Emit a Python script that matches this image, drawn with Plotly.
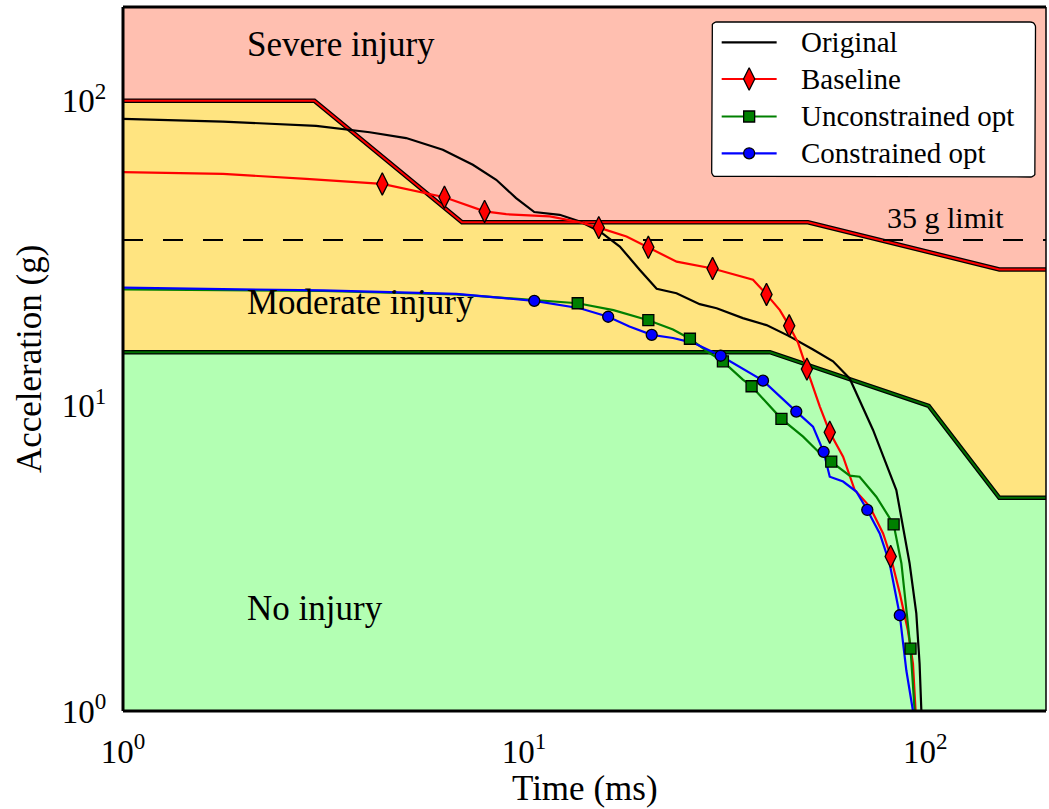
import math
import plotly.graph_objects as go

# ---------------- data ----------------
X_MAX = 200
Y_MAX = 203

# injury region boundaries (time ms, acceleration g)
severe_t = [1, 3, 7, 51, 153, 200]
severe_a = [100, 100, 40, 40, 28, 28]
moderate_t = [1, 41, 102, 153, 200]
moderate_a = [15, 15, 10, 5, 5]
limit_g = 35

orig_t = [1, 1.775, 3.03, 4.12, 5.08, 6.27, 7.45, 8.52, 9.55, 10.6, 12.27, 13.77, 15.44,
          17.32, 19.43, 21.4, 23.98, 27.4, 30.2, 35.1, 40.2, 45.9, 52.5, 58.9, 64.8, 74.1,
          84.7, 91.4, 95.0, 96.8, 97.8]
orig_a = [87.3, 85.5, 82.8, 78.9, 75.5, 69.1, 61.7, 55.1, 48.0, 43.2, 42.3, 40.2, 37.3,
          33.3, 27.9, 24.2, 23.4, 21.55, 20.9, 19.4, 18.4, 16.9, 15.3, 14.0, 12.3, 8.34,
          5.30, 3.05, 2.09, 1.43, 1.0]

base_t = [1, 1.775, 2.86, 4.43, 6.33, 7.97, 9.02, 11.59, 13.77, 15.35, 18.0, 20.4, 24.0,
          29.5, 37.2, 40.2, 43.4, 45.8, 48.2, 50.7, 54.6, 57.8, 62.4, 66.7, 72.7, 78.5,
          82.0, 86.4, 90.5, 93.2, 94.6]
base_a = [58.4, 57.6, 55.5, 53.4, 48.3, 43.4, 42.5, 41.8, 40.0, 38.4, 35.9, 33.1, 29.7,
          28.2, 25.9, 23.2, 20.6, 18.3, 16.1, 13.2, 9.95, 8.20, 6.82, 5.30, 4.68, 3.82,
          3.21, 2.43, 1.84, 1.43, 1.0]
base_marks = [3, 4, 5, 9, 11, 13, 15, 17, 19, 21, 26]

unc_t = [1, 3.15, 6.77, 10.6, 13.6, 16.7, 20.4, 23.5, 25.9, 29.0, 31.3, 35.1, 36.9, 43.8,
         49.6, 54.6, 58.3, 64.8, 68.6, 75.5, 83.4, 87.2, 91.9, 93.2, 94.1]
unc_a = [24.1, 23.8, 23.2, 22.3, 21.7, 20.6, 19.1, 17.8, 16.6, 14.9, 14.0, 12.2, 11.6, 9.07,
         7.93, 7.0, 6.57, 5.91, 5.86, 5.04, 4.09, 3.05, 1.60, 1.17, 1.0]
unc_marks = [4, 6, 8, 10, 12, 13, 16, 20, 22]

con_t = [1, 3.15, 6.77, 10.6, 13.77, 16.2, 18.3, 20.8, 23.5, 26.4, 30.9, 39.4, 47.7, 52.5,
         55.8, 57.8, 62.4, 67.3, 71.7, 77.0, 81.5, 86.4, 89.7, 93.2]
con_a = [24.4, 23.9, 23.3, 22.1, 20.9, 19.6, 18.2, 17.1, 16.7, 16.1, 14.6, 12.1, 9.58, 8.55,
         7.07, 5.86, 5.65, 5.24, 4.56, 3.82, 3.05, 2.06, 1.36, 1.0]
con_marks = [3, 5, 7, 10, 11, 12, 14, 18, 21]

series_names = ["Original", "Baseline", "Unconstrained opt", "Constrained opt"]
region_labels = ["Severe injury", "Moderate injury", "No injury"]
limit_label = "35 g limit"
x_title = "Time (ms)"
y_title = "Acceleration (g)"
tick_vals = [1, 10, 100]
tick_text = ["10<sup>0</sup>", "10<sup>1</sup>", "10<sup>2</sup>"]

# ---------------- style ----------------
FONT = "'Liberation Serif', Tinos, 'Times New Roman', 'DejaVu Serif', serif"
PINK = "#FFBFB0"
YELLOW = "#FFE480"
LGREEN = "#B3FFB3"
W, H = 1049, 809
ML, MR, MT, MB = 123, 2.5, 7, 98
PW = W - ML - MR
PH = H - MT - MB

fig = go.Figure()

# regions
fig.add_trace(go.Scatter(x=severe_t + [X_MAX, 1], y=severe_a + [1000, 1000], fill="toself",
                         fillcolor=PINK, line=dict(width=0), mode="lines", hoverinfo="skip"))
fig.add_trace(go.Scatter(x=severe_t + moderate_t[::-1], y=severe_a + moderate_a[::-1], fill="toself",
                         fillcolor=YELLOW, line=dict(width=0), mode="lines", hoverinfo="skip"))
fig.add_trace(go.Scatter(x=moderate_t + [X_MAX, 1], y=moderate_a + [0.1, 0.1], fill="toself",
                         fillcolor=LGREEN, line=dict(width=0), mode="lines", hoverinfo="skip"))
# boundaries
fig.add_trace(go.Scatter(x=severe_t, y=severe_a, mode="lines", line=dict(color="black", width=4.5)))
fig.add_trace(go.Scatter(x=severe_t, y=severe_a, mode="lines", line=dict(color="red", width=2)))
fig.add_trace(go.Scatter(x=moderate_t, y=moderate_a, mode="lines", line=dict(color="black", width=4.5)))
fig.add_trace(go.Scatter(x=moderate_t, y=moderate_a, mode="lines", line=dict(color="#007000", width=2)))
# limit line
fig.add_trace(go.Scatter(x=[1, X_MAX], y=[limit_g, limit_g], mode="lines",
                         line=dict(color="black", width=2, dash="20px,20px")))

# curves
styles = [
    ("black", None, None),
    ("red", "diamond-tall", "red"),
    ("green", "square", "green"),
    ("blue", "circle", "blue"),
]
data = [(orig_t, orig_a, []), (base_t, base_a, base_marks),
        (unc_t, unc_a, unc_marks), (con_t, con_a, con_marks)]
msize = {"diamond-tall": 16, "square": 11, "circle": 11}
for (t, a, marks), (col, sym, fc) in zip(data, styles):
    fig.add_trace(go.Scatter(x=t, y=a, mode="lines", line=dict(color=col, width=2.2)))
for (t, a, marks), (col, sym, fc) in zip(data, styles):
    if marks:
        fig.add_trace(go.Scatter(x=[t[i] for i in marks], y=[a[i] for i in marks], mode="markers",
                                 marker=dict(symbol=sym, size=msize[sym], color=fc,
                                             line=dict(color="black", width=1.3))))

# ---------------- legend (overlay axes in plot fractions) ----------------
def fx(px):
    return (px - ML) / PW

def fy(py):
    return (MT + PH - py) / PH

bx0, by0, bx1, by1, rad = 712, 22, 1036, 177, 5
pts = []
for cx, cy, a0 in [(bx1 - rad, by0 + rad, -90), (bx1 - rad, by1 - rad, 0),
                   (bx0 + rad, by1 - rad, 90), (bx0 + rad, by0 + rad, 180)]:
    for k in range(7):
        ang = math.radians(a0 + k * 15)
        pts.append((cx + rad * math.cos(ang), cy + rad * math.sin(ang)))
pts.append(pts[0])
fig.add_trace(go.Scatter(x=[fx(p[0]) for p in pts], y=[fy(p[1]) for p in pts], xaxis="x2", yaxis="y2",
                         mode="lines", fill="toself", fillcolor="white",
                         line=dict(color="black", width=1.3)))
rows = [42.3, 79, 116.5, 153.3]
for row, name, (col, sym, fc) in zip(rows, series_names, styles):
    fig.add_trace(go.Scatter(x=[fx(722), fx(777)], y=[fy(row), fy(row)], xaxis="x2", yaxis="y2",
                             mode="lines", line=dict(color=col, width=2.2)))
    if sym:
        fig.add_trace(go.Scatter(x=[fx(749.5)], y=[fy(row)], xaxis="x2", yaxis="y2", mode="markers",
                                 marker=dict(symbol=sym, size=msize[sym], color=fc,
                                             line=dict(color="black", width=1.3))))

annotations = []
for row, name in zip(rows, series_names):
    annotations.append(dict(x=fx(799), y=fy(row), xref="paper", yref="paper", text=name,
                            showarrow=False, xanchor="left", yanchor="middle",
                            font=dict(family=FONT, size=29, color="black")))

# region labels
for lab, cy in zip(region_labels, [45, 302.6, 608]):
    annotations.append(dict(x=fx(245), y=fy(cy), xref="paper", yref="paper", text=lab,
                            showarrow=False, xanchor="left", yanchor="middle",
                            font=dict(family=FONT, size=35, color="black")))
annotations.append(dict(x=fx(885), y=fy(217), xref="paper", yref="paper", text=limit_label,
                        showarrow=False, xanchor="left", yanchor="middle",
                        font=dict(family=FONT, size=30, color="black")))
# axis titles
annotations.append(dict(x=0.5, y=fy(788), xref="paper", yref="paper", text=x_title,
                        showarrow=False, xanchor="center", yanchor="middle",
                        font=dict(family=FONT, size=35, color="black")))
annotations.append(dict(x=fx(29), y=0.5, xref="paper", yref="paper", text=y_title, textangle=-90,
                        showarrow=False, xanchor="center", yanchor="middle",
                        font=dict(family=FONT, size=35, color="black")))

shapes = [
    dict(type="line", xref="paper", yref="paper", x0=0, x1=0, y0=0, y1=1, line=dict(color="black", width=3)),
    dict(type="line", xref="paper", yref="paper", x0=0, x1=1, y0=0, y1=0, line=dict(color="black", width=3)),
    dict(type="line", xref="paper", yref="paper", x0=0, x1=1, y0=1, y1=1, line=dict(color="black", width=3)),
    dict(type="line", xref="paper", yref="paper", x0=1, x1=1, y0=0, y1=1, line=dict(color="black", width=1.5)),
]

axis_common = dict(type="log", showgrid=False, zeroline=False, showline=False,
                   tickvals=tick_vals, ticktext=tick_text, ticks="outside",
                   tickcolor="rgba(0,0,0,0)", tickfont=dict(family=FONT, size=33, color="black"))
fig.update_layout(
    width=W, height=H, showlegend=False,
    font=dict(family=FONT),
    margin=dict(l=ML, r=MR, t=MT, b=MB, pad=0),
    plot_bgcolor="white", paper_bgcolor="white",
    xaxis=dict(range=[0, math.log10(X_MAX)], ticklen=11, **axis_common),
    yaxis=dict(range=[0, math.log10(Y_MAX)], ticklen=9, **axis_common),
    xaxis2=dict(range=[0, 1], overlaying="x", anchor="y2", visible=False),
    yaxis2=dict(range=[0, 1], overlaying="y", anchor="x2", visible=False),
    annotations=annotations, shapes=shapes,
)

fig.write_html("out.html")
